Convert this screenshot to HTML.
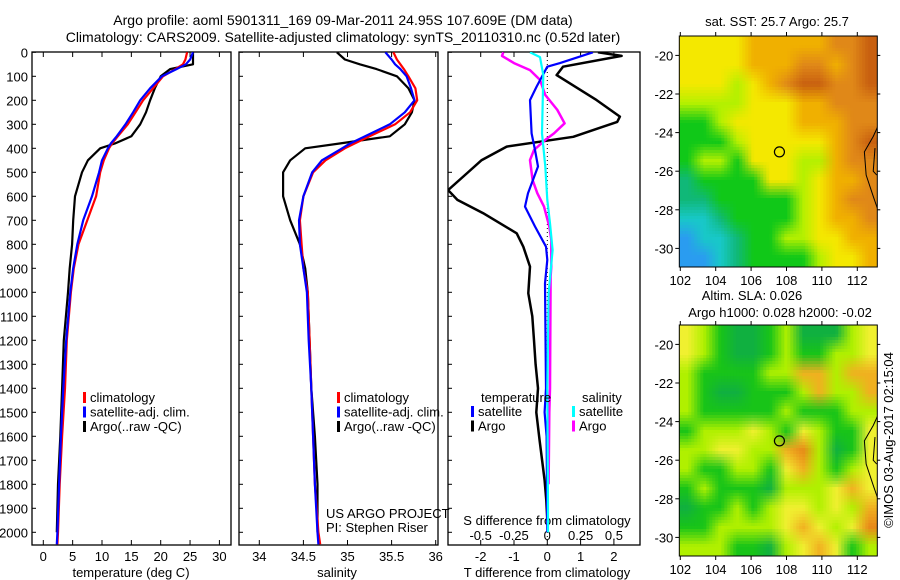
<!DOCTYPE html>
<html><head><meta charset="utf-8"><style>
html,body{margin:0;padding:0;background:#fff;}
svg{display:block;font-family:"Liberation Sans",sans-serif;}
text{fill:#000;}
</style></head><body>
<svg id="chart" width="900" height="580" viewBox="0 0 900 580">
<defs>
<clipPath id="clipM1"><rect x="679" y="36" width="198" height="231"/></clipPath>
<clipPath id="clipM2"><rect x="679" y="325" width="198" height="232"/></clipPath>
<clipPath id="clipP1"><rect x="32" y="52" width="199" height="493"/></clipPath>
<clipPath id="clipP2"><rect x="239" y="52" width="199" height="493"/></clipPath>
<clipPath id="clipP3"><rect x="448" y="52" width="192" height="493"/></clipPath>
</defs>
<text x="343" y="25" text-anchor="middle" font-size="14">Argo profile: aoml 5901311_169 09-Mar-2011 24.95S 107.609E (DM data)</text>
<text x="343" y="42" text-anchor="middle" font-size="14">Climatology: CARS2009. Satellite-adjusted climatology: synTS_20110310.nc (0.52d later)</text>
<g id="g"></g>
</svg>
<script>
// ---- profile data ----
const profDepths = [0,30,50,70,100,150,200,250,300,350,380,400,450,500,600,700,800,900,1000,1200,1400,1600,1800,2000,2050];
const tempClim = [24.5,24.2,23.8,22.5,20.4,18.7,17,15.7,14.4,12.7,11.7,11.2,10.3,9.7,9,7.5,6,5.2,4.7,4.0,3.7,3.2,2.8,2.5,2.4];
const tempSat  = [25.5,25,24.3,22.7,20.2,18.2,16.5,15.3,14,12.5,11.5,11,10,9.5,8.3,6.8,5.8,5.1,4.6,3.9,3.4,3.0,2.7,2.4,2.3];
const tempArgo = [25.5,25.5,25.5,21.6,20,19,18.2,17.5,16.5,15,12.2,9.7,7.6,6.6,5.4,5.1,4.9,4.5,4.2,3.5,3.2,2.9,2.5,2.3,null];
const salClim = [35.52,35.56,35.6,35.64,35.69,35.77,35.79,35.71,35.54,35.25,35.08,34.97,34.75,34.61,34.5,34.46,34.48,34.5,34.55,34.57,34.59,34.61,34.63,34.67,34.69];
const salSat  = [35.43,35.5,35.54,35.6,35.67,35.72,35.76,35.65,35.48,35.2,35.03,34.94,34.71,34.6,34.5,34.45,34.46,34.5,34.54,34.56,34.59,34.61,34.63,34.66,34.67];
const salArgo = [34.88,34.97,35.14,35.33,35.56,35.69,35.76,35.73,35.65,35.48,34.91,34.52,34.35,34.27,34.27,34.35,34.46,34.52,34.55,34.57,34.59,34.63,34.66,34.66,null];
const tdArgoDepth = [0,15,60,95,199,268,290,352,393,449,505,574,615,670,754,810,893,1004,1100,1200,1300,1400,1500,1617,1783,1867,1950];
const tdArgoVal = [1.52,2.23,0.47,0.28,1.48,2.18,2.1,0.78,-1.22,-1.97,-2.42,-2.98,-2.7,-1.93,-0.92,-0.72,-0.52,-0.57,-0.45,-0.4,-0.35,-0.28,-0.33,-0.23,-0.08,-0.03,0];
const tdSatDepth = [0,45,60,143,199,338,407,476,587,643,726,810,865,963,1400,1500,1600,2000];
const tdSatVal = [1.37,0.38,0,-0.32,-0.52,-0.47,-0.37,-0.28,-0.58,-0.67,-0.37,-0.04,0,-0.07,-0.04,-0.08,-0.02,0];
const sdSatDepth = [0,20,95,338,476,615,712,824,1004,1400,1900,2000];
const sdSatVal = [-0.13,-0.055,-0.03,-0.04,-0.015,0,0.02,0.04,0.01,0,0.005,0.005];
const sdArgoDepth = [0,15,45,74,115,178,240,296,338,365,407,449,532,587,643,726,782,893,935,1400,1500,1800];
const sdArgoVal = [-0.33,-0.34,-0.25,-0.13,-0.055,-0.015,0.075,0.13,0.05,-0.015,-0.1,-0.13,-0.11,-0.075,-0.025,0.015,0.03,0.03,0.025,0.02,0.015,0.01];
const depthTicks = [0,100,200,300,400,500,600,700,800,900,1000,1100,1200,1300,1400,1500,1600,1700,1800,1900,2000];
const tempTicks = [0,5,10,15,20,25,30];
const salTicks = [34,34.5,35,35.5,36];
const salTickLabels = ["34","34.5","35","35.5","36"];
const tdTicks = [-2,-1,0,1,2];
const sdTicks = [-0.5,-0.25,0,0.25,0.5];
const sdTickLabels = ["-0.5","-0.25","0","0.25","0.5"];
// ---- map data ----
const lonTicks = [102,104,106,108,110,112];
const latTicks = [-20,-22,-24,-26,-28,-30];
const sstGrid = [
"YYYYOOOOORRD","YYYYOOORRORD","YYYLYORDDRRD","LLLLYYYOORRR",
"GGLYYYYOOORR","GGGLYYYYYORD","GLLGYYYLLORR","TGGGGYYLYOOR",
"TTGGGGGLYORR","CCTGGGGLYOOR","BCCTGGLLYYOO","BBCTGGGGLYYO"];
const slaGrid = [
"YLGMMGLMMMLY","YLGMMGLGGLLY","LGGGGLLOOLOO","LGMMGGGLOLLO",
"LGGGGGLGGGLL","GLLLYLGYLGGY","LLYYLLORLMGY","LGGLLGYOLGLY",
"GLGGGMLLLYOY","MGGLGLYYLYLO","GGLLLLYOYLYR","LLLGGMLYOYGL"];
const floatLon = 107.6, floatLat = -25.0;

const NS='http://www.w3.org/2000/svg';
const root=document.getElementById('g');
function el(tag,attrs,parent){const e=document.createElementNS(NS,tag);for(const k in attrs)e.setAttribute(k,attrs[k]);(parent||root).appendChild(e);return e;}
function txt(x,y,s,size,anchor,parent){const t=el('text',{x:x,y:y,'font-size':size||13,'text-anchor':anchor||'middle'},parent);t.textContent=s;return t;}

const Y0=52.3, PXD=0.24;
const yD=d=>Y0+d*PXD;
const xT=v=>43.3+v*5.87;
const xS=v=>259.3+(v-34)*88.2;
const xTD=v=>547.3+v*33.3;
const xSD=v=>547.3+v*133.3;

function linePath(depths,vals,xf){let d='',pen=false;for(let i=0;i<depths.length;i++){if(vals[i]==null){pen=false;continue;}d+=(pen?'L':'M')+xf(vals[i]).toFixed(1)+','+yD(depths[i]).toFixed(1);pen=true;}return d;}

function frame(x,y,w,h,name){const r=el('rect',{x:x,y:y,width:w,height:h,fill:'none',stroke:'#000','stroke-width':1.3});}

const panels=[{x:32,w:199,name:'temperature-panel'},{x:239,w:199,name:'salinity-panel'},{x:448,w:192,name:'difference-panel'}];
panels.forEach(p=>{frame(p.x,52,p.w,493,p.name+'-frame');
  depthTicks.forEach(d=>{el('line',{x1:p.x,x2:p.x+4,y1:yD(d),y2:yD(d),stroke:'#000'});});
});
const yax=el('g',{});


depthTicks.forEach(d=>{txt(28,yD(d)+5,String(d),13,'end',yax);});

function xAxis(ticks,labels,xf,name){const g=el('g',{});
  
  
  ticks.forEach((v,i)=>{const x=xf(v);el('line',{x1:x,x2:x,y1:52,y2:57,stroke:'#000'},g);el('line',{x1:x,x2:x,y1:545,y2:540,stroke:'#000'},g);txt(x,561,labels[i],13,'middle',g);});}
xAxis(tempTicks,tempTicks.map(String),xT,'temperature-x-axis');
xAxis(salTicks,salTickLabels,xS,'salinity-x-axis');
xAxis(tdTicks,tdTicks.map(String),xTD,'t-difference-x-axis');
const sdg=el('g',{});


sdTicks.forEach((v,i)=>{txt(xSD(v),540,sdTickLabels[i],13,'middle',sdg);});
let t;
t=txt(131,577,'temperature (deg C)',13);
t=txt(337,577,'salinity',13);
t=txt(547,577,'T difference from climatology',13);
t=txt(547,525,'S difference from climatology',13);

el('line',{x1:xTD(0),x2:xTD(0),y1:52,y2:545,stroke:'#000','stroke-dasharray':'1,3'});

function series(depths,vals,xf,color,clip,name,w){const p=el('path',{d:linePath(depths,vals,xf),fill:'none',stroke:color,'stroke-width':w||2.2,'clip-path':'url(#'+clip+')','stroke-linejoin':'round'});}
series(profDepths,tempArgo,xT,'#000','clipP1','temp-argo-line');
series(profDepths,tempClim,xT,'#f00','clipP1','temp-climatology-line');
series(profDepths,tempSat,xT,'#00f','clipP1','temp-satellite-line');
series(profDepths,salArgo,xS,'#000','clipP2','sal-argo-line');
series(profDepths,salClim,xS,'#f00','clipP2','sal-climatology-line');
series(profDepths,salSat,xS,'#00f','clipP2','sal-satellite-line');
series(tdArgoDepth,tdArgoVal,xTD,'#000','clipP3','tdiff-argo-line',2.5);
series(sdArgoDepth,sdArgoVal,xSD,'#f0f','clipP3','sdiff-argo-line',2.5);
series(tdSatDepth,tdSatVal,xTD,'#00f','clipP3','tdiff-satellite-line',2.2);
series(sdSatDepth,sdSatVal,xSD,'#0ff','clipP3','sdiff-satellite-line',2.2);

function legend(x,y,items,name){const g=el('g',{});
  
  
  items.forEach((it,i)=>{const yy=y+i*14.5;el('rect',{x:x,y:yy-10,width:3,height:11,fill:it[1]},g);txt(x+7,yy,it[0],13,'start',g);});}
legend(83,402,[['climatology','#f00'],['satellite-adj. clim.','#00f'],['Argo(..raw -QC)','#000']],'temperature-legend');
legend(337,402,[['climatology','#f00'],['satellite-adj. clim.','#00f'],['Argo(..raw -QC)','#000']],'salinity-legend');
txt(481,402,'temperature',13,'start');
txt(582,402,'salinity',13,'start');
legend(471,416,[['satellite','#00f'],['Argo','#000']],'t-difference-legend');
legend(572,416,[['satellite','#0ff'],['Argo','#f0f']],'s-difference-legend');
t=txt(326,518,'US ARGO PROJECT',13,'start');
t=txt(326,532,'PI: Stephen Riser',13,'start');

const sstPal={B:'#2a9cf0',C:'#18c8c8',T:'#10b878',G:'#10c818',L:'#b4f000',Y:'#f4e800',O:'#f0b000',R:'#e08818',D:'#c86010'};
const slaPal={M:'#10b040',G:'#18c418',L:'#b0f000',Y:'#f0f030',O:'#f0b020',R:'#e88818'};
function hex(c){return [parseInt(c.substr(1,2),16),parseInt(c.substr(3,2),16),parseInt(c.substr(5,2),16)];}
function drawMap(top,grid,pal,clip,name,title1,title2){
  const L=679.3,R=877.3,B=top+231;
  const lonX=v=>680.3+(v-102)*17.7;
  const latY=v=>(top+19.4)+(-20-v)*19.3;
  const g=el('g',{'clip-path':'url(#'+clip+')'});
  
  
  const rows=grid.length,cols=grid[0].length;
  const cw=(R-L)/cols,ch=231/rows;
  const rgb=grid.map(r=>r.split('').map(k=>hex(pal[k])));
  const step=3;
  for(let py=top;py<B;py+=step)for(let px=L;px<R;px+=step){
    let fc=(px+step/2-L)/cw-0.5, fr=(py+step/2-top)/ch-0.5;
    fc=Math.max(0,Math.min(cols-1,fc));fr=Math.max(0,Math.min(rows-1,fr));
    const c0=Math.floor(fc),r0=Math.floor(fr),c1=Math.min(cols-1,c0+1),r1=Math.min(rows-1,r0+1),ax=fc-c0,ay=fr-r0;
    const col=[0,1,2].map(k=>Math.round((rgb[r0][c0][k]*(1-ax)+rgb[r0][c1][k]*ax)*(1-ay)+(rgb[r1][c0][k]*(1-ax)+rgb[r1][c1][k]*ax)*ay));
    el('rect',{x:px.toFixed(1),y:py.toFixed(1),width:step+0.4,height:step+0.4,fill:'rgb('+col.join(',')+')'},g);
  }
  const coast=el('path',{d:'M'+lonX(113.2)+','+latY(-23.6)+' L'+lonX(112.9)+','+latY(-24.2)+' L'+lonX(112.4)+','+latY(-25)+' L'+lonX(112.5)+','+latY(-26.2)+' L'+lonX(112.9)+','+latY(-27.3)+' L'+lonX(113.2)+','+latY(-28.1)+' M'+lonX(113.0)+','+latY(-24.8)+' L'+lonX(112.9)+','+latY(-26)+' L'+lonX(113.1)+','+latY(-26.2),fill:'none',stroke:'#000','stroke-width':1},g);
  
  
  const c=el('circle',{cx:lonX(floatLon),cy:latY(floatLat),r:5,fill:'none',stroke:'#000','stroke-width':1.2});
  
  
  el('rect',{x:L,y:top,width:R-L,height:231,fill:'none',stroke:'#000','stroke-width':1});
  lonTicks.forEach(v=>{el('line',{x1:lonX(v),x2:lonX(v),y1:top,y2:top-4,stroke:'#000'});el('line',{x1:lonX(v),x2:lonX(v),y1:B,y2:B+4,stroke:'#000'});txt(lonX(v),B+18,String(v),13);});
  latTicks.forEach(v=>{el('line',{x1:L,x2:L-4,y1:latY(v),y2:latY(v),stroke:'#000'});el('line',{x1:R,x2:R+3,y1:latY(v),y2:latY(v),stroke:'#000'});txt(L-6,latY(v)+5,String(v),13,'end');});
  if(title2){txt(752,top-25,title1,13);txt(780,top-8,title2,13);}
  else txt(777,top-10,title1,13);
}
drawMap(36,sstGrid,sstPal,'clipM1','sst-map','sat. SST: 25.7 Argo: 25.7');
drawMap(325,slaGrid,slaPal,'clipM2','sla-map','Altim. SLA: 0.026','Argo h1000: 0.028 h2000: -0.02');
t=el('text',{x:0,y:0,'font-size':13,'text-anchor':'middle',transform:'translate(893,440) rotate(-90)'});
t.textContent='\u00a9IMOS 03-Aug-2017 02:15:04';


</script>
</body></html>
